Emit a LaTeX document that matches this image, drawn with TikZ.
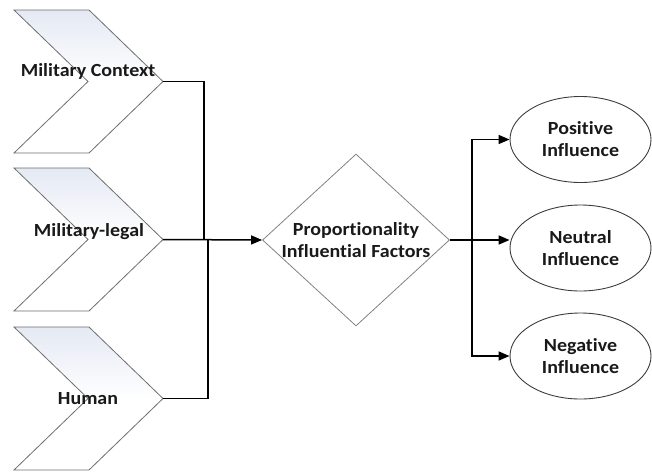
\documentclass[tikz,border=0pt]{standalone}
\usepackage{fontspec}
\setmainfont[Ligatures=NoCommon,FakeStretch=1.08]{Carlito}
\usetikzlibrary{shapes.geometric,arrows.meta,calc}
\definecolor{chevfill}{RGB}{228,233,243}
\definecolor{chevline}{RGB}{110,110,110}
\definecolor{dialine}{RGB}{130,130,130}
\definecolor{elline}{RGB}{60,60,60}
\tikzset{
  chevron/.style={draw=chevline, line width=0.8pt, top color=chevfill, bottom color=white, middle color=white, line join=miter},
  lbl/.style={font=\fontsize{18.5}{22}\selectfont\bfseries, text=black!90, align=center, inner sep=0pt},
  conn/.style={draw=black, line width=1.5pt},
  arr/.style={conn, -{Triangle[length=11pt,width=9pt]}},
  outc/.style={ellipse, draw=elline, line width=0.9pt, minimum width=141pt, minimum height=86pt, inner sep=0pt, lbl},
}
\begin{document}
\begin{tikzpicture}[x=1pt,y=-1pt]
\useasboundingbox (0,0) rectangle (652,471);
% chevrons
\foreach \t/\n in {10/c1,168/c2,327/c3}{
  \path[chevron] (14,\t) -- (89,\t) -- (163,\t+71.5) -- (89,\t+143) -- (14,\t+143) -- (88,\t+71.5) -- cycle;
  \coordinate (\n) at (163,\t+71.5);
}
\node[lbl] (t1) at (88,71) {Military Context};
\node[lbl] (t2) at (89,232) {Military-legal};
\node[lbl] (t3) at (88,399) {Human};
% diamond
\node[diamond, draw=dialine, line width=0.8pt, minimum width=187pt, minimum height=172pt, inner sep=0pt] (d) at (356,240) {};
\node[lbl] (dt) at (356,240) {Proportionality\\Influential Factors};
% outcomes
\node[outc] (pos) at (580.5,139.5) {Positive\\Influence};
\node[outc] (neu) at (580.5,248) {Neutral\\Influence};
\node[outc] (neg) at (580.5,356) {Negative\\Influence};
% junction coordinates
\coordinate (ja) at (204,240);
\coordinate (jb) at (208,240);
\coordinate (jr) at (472,240);
% left connectors
\draw[conn] (c1) -| (ja);
\draw[conn] (c3) -| (jb);
\draw[arr] (c2) -- (d.west);
% right connectors
\draw[conn] (d.east) -- (jr);
\draw[arr] (jr) -- (jr -| neu.west);
\draw[arr] (jr) |- (pos.west);
\draw[arr] (jr) |- (neg.west);
\end{tikzpicture}
\end{document}
